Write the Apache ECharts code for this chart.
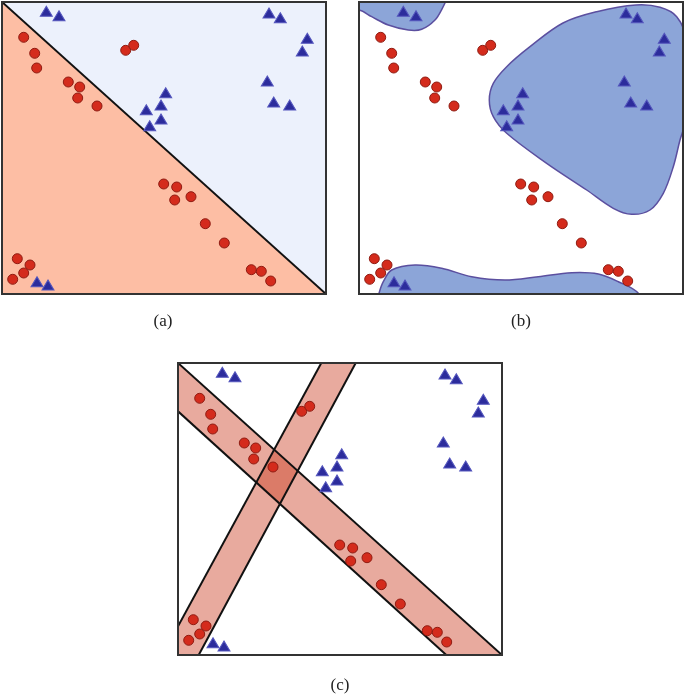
<!DOCTYPE html>
<html>
<head>
<meta charset="utf-8">
<script src="https://cdn.jsdelivr.net/npm/echarts@6/dist/echarts.min.js"></script>
<style>
html,body{margin:0;padding:0;background:#fff;}
#chart{width:685px;height:699px;}
</style>
</head>
<body>
<div id="chart"></div>
<script>
// ---- data (panel units: x 0..324, y 0..292, y upward) ----
const xRange = [0, 324];
const yRange = [0, 292];

const redPoints = [
  [21.7,256.7],[32.7,240.7],[34.7,226],[66.3,212],[77.7,207],[75.7,196],[95,188],
  [123.7,243.7],[131.7,248.7],
  [161.7,110],[174.7,107],[172.7,94],[189,97.3],[203.3,70.3],[222.3,51],
  [249.3,24.3],[259.3,22.7],[268.7,13],
  [15.3,35.3],[28,29],[21.7,21],[10.7,14.7]
];
const bluePoints = [
  [44.3,282.7],[57,278.3],[267,281],[278.3,276.3],[305.3,255.7],[300.3,243],
  [265.3,213],[271.7,192],[287.7,189],
  [163.7,201.3],[159,189],[144.3,184.3],[159,175],[147.7,168.3],
  [35,12.3],[46,9]
];

// (a) linear decision boundary
const boundaryA = [[0,292],[324,0]];

// (b) nonlinear decision regions (outlines)
const blobTopLeft = [
  [-20,300],[-20,284],[0,284],[12.7,277.3],[29.3,269],[49.3,264],[62.7,264.7],
  [76,274],[83.3,285.7],[88,296],[95,320],[-20,320]
];
const blobCenter = [
  [277,289],[237.7,282.3],[204,271],[171,247.3],[147.7,227.3],[134.3,210.7],
  [130.3,194],[134.3,177.3],[147.7,160.7],[187.7,130.7],[227.7,104],[254.3,85.7],
  [272.7,79.7],[291,84],[304.3,100.7],[314.3,127.3],[321,154],[326,171],
  [329,211],[327.7,254],[317.7,277.3],[301,286.7]
];
const blobBottom = [
  [20,0.7],[24.3,12.3],[32.7,24],[56,29],[82.7,25.7],[112.7,17.3],[146,14],
  [179.3,17.3],[212.7,21.3],[239.3,20],[259.3,12.3],[279.3,0.7],[285,-20],[15,-20]
];

// (c) two bands
const band1Upper = [[0,292],[324,0]];
const band1Lower = [[0,243.7],[268.3,0]];
const band2Left  = [[0,28.7],[143.3,292]];
const band2Right = [[20.7,0],[177.7,292]];
const cornerBL = [0,0];

const panelLabels = ['(a)','(b)','(c)'];

// ---- chart ----
const grids = [
  {left:2, top:2, width:324, height:292},
  {left:359, top:2, width:324, height:292},
  {left:178, top:363, width:324, height:292}
];

function axisX(i){return {type:'value', gridIndex:i, min:xRange[0], max:xRange[1], show:false};}
function axisY(i){return {type:'value', gridIndex:i, min:yRange[0], max:yRange[1], show:false};}

function pts(api, arr){return arr.map(p => api.coord(p));}

function scatterSeries(i){
  return [
    {type:'scatter', xAxisIndex:i, yAxisIndex:i, data:redPoints, symbol:'circle', symbolSize:10, z:5,
     itemStyle:{color:'#d42b1c', borderColor:'#8f1c12', borderWidth:1, opacity:1}, silent:true},
    {type:'scatter', xAxisIndex:i, yAxisIndex:i, data:bluePoints, symbol:'triangle', symbolSize:[12,10], z:5,
     itemStyle:{color:'#2c2c9c', borderColor:'#5456bd', borderWidth:1, opacity:1}, silent:true}
  ];
}

const seriesA = {
  type:'custom', xAxisIndex:0, yAxisIndex:0, data:[0], clip:true, silent:true, z:1,
  renderItem:function(params, api){
    const a = boundaryA;
    const lower = pts(api, [a[0], a[1], [xRange[1], yRange[0]], [xRange[0], yRange[0]]]);
    const upper = pts(api, [a[0], [xRange[0], yRange[1]], [xRange[1], yRange[1]], a[1]]);
    const line = pts(api, a);
    return {type:'group', children:[
      {type:'polygon', shape:{points:upper}, style:{fill:'#ecf1fc', stroke:null}},
      {type:'polygon', shape:{points:lower}, style:{fill:'#fdbea4', stroke:null}},
      {type:'polyline', shape:{points:line}, style:{stroke:'#111', lineWidth:2, fill:null}}
    ]};
  }
};

const seriesB = {
  type:'custom', xAxisIndex:1, yAxisIndex:1, data:[0], clip:true, silent:true, z:1,
  renderItem:function(params, api){
    const st = {fill:'#8ca5d8', stroke:'#5b4f9f', lineWidth:1.5};
    return {type:'group', children:[
      {type:'polygon', shape:{points:pts(api, blobTopLeft), smooth:0.35}, style:st},
      {type:'polygon', shape:{points:pts(api, blobCenter), smooth:0.35}, style:st},
      {type:'polygon', shape:{points:pts(api, blobBottom), smooth:0.35}, style:st}
    ]};
  }
};

const seriesC = {
  type:'custom', xAxisIndex:2, yAxisIndex:2, data:[0], clip:true, silent:true, z:1,
  renderItem:function(params, api){
    const fill = 'rgba(204,65,38,0.447)';
    const b1 = pts(api, [band1Upper[0], band1Upper[1], band1Lower[1], band1Lower[0]]);
    const b2 = pts(api, [band2Left[0], band2Left[1], band2Right[1], band2Right[0], cornerBL]);
    const ls = {stroke:'#111', lineWidth:2, fill:null};
    return {type:'group', children:[
      {type:'polygon', shape:{points:b1}, style:{fill:fill}},
      {type:'polygon', shape:{points:b2}, style:{fill:fill}},
      {type:'polyline', shape:{points:pts(api, band1Upper)}, style:ls},
      {type:'polyline', shape:{points:pts(api, band1Lower)}, style:ls},
      {type:'polyline', shape:{points:pts(api, band2Left)}, style:ls},
      {type:'polyline', shape:{points:pts(api, band2Right)}, style:ls}
    ]};
  }
};

const gridOpts = grids.map(g => Object.assign({show:true, backgroundColor:'transparent', borderColor:'#333', borderWidth:2, z:10}, g));

const labelPos = [[163,322],[521,322],[340,686]];
const graphics = panelLabels.map((t,i) => ({
  type:'text', x:labelPos[i][0], y:labelPos[i][1],
  style:{text:t, font:'17px "Liberation Serif", "DejaVu Serif", serif', fill:'#222', align:'center', verticalAlign:'middle'}
}));

const chart = echarts.init(document.getElementById('chart'), null, {renderer:'canvas'});
chart.setOption({
  animation:false,
  backgroundColor:'#ffffff',
  grid: gridOpts,
  xAxis:[axisX(0),axisX(1),axisX(2)],
  yAxis:[axisY(0),axisY(1),axisY(2)],
  graphic: graphics,
  series:[seriesA, seriesB, seriesC].concat(scatterSeries(0), scatterSeries(1), scatterSeries(2))
});
</script>
</body>
</html>
